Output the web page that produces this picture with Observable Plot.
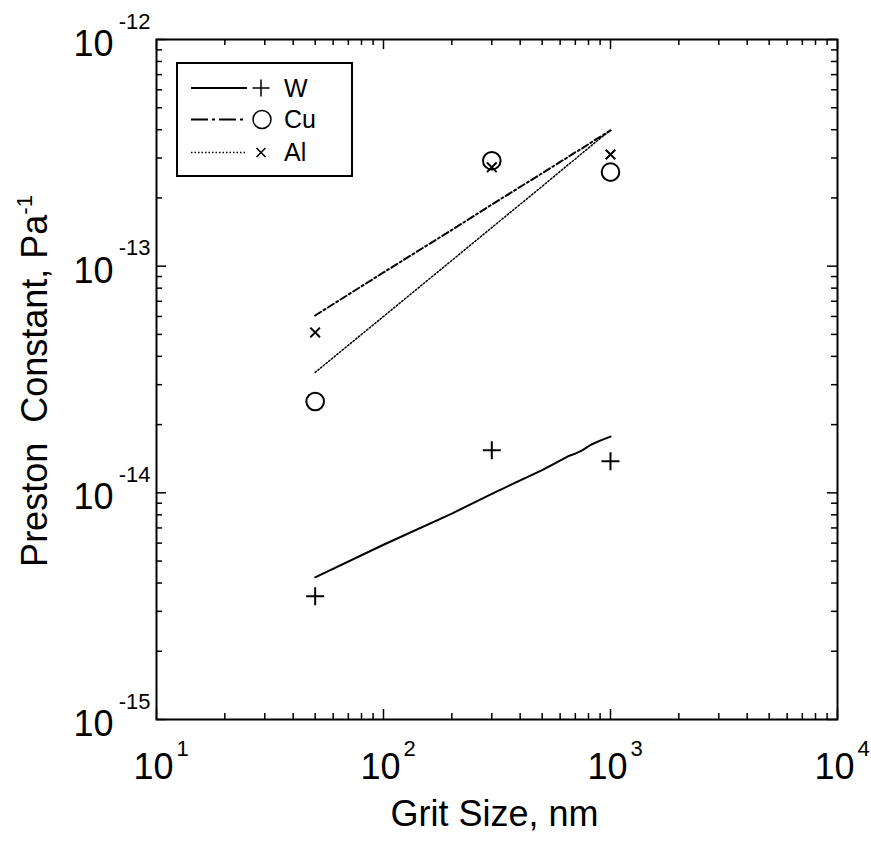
<!DOCTYPE html>
<html><head><meta charset="utf-8">
<script src="https://cdn.jsdelivr.net/npm/d3@7"></script>
<script src="https://cdn.jsdelivr.net/npm/@observablehq/plot@0.6"></script>
<style>body{margin:0;background:#fff;} #chart{width:871px;height:843px;}</style>
</head><body><div id="chart"></div>
<script>
// measured points
const gritSize = [50, 300, 1000];
const wPoints  = [3.5e-15, 1.54e-14, 1.38e-14];
const cuPoints = [2.53e-14, 2.92e-13, 2.6e-13];
const alPoints = [5.1e-14, 2.73e-13, 3.11e-13];
// fitted lines
const lineGrit = [50, 100, 200, 300, 500, 650, 700, 750, 820, 900, 1000];
const wLine  = [4.24e-15, 5.9e-15, 8.1e-15, 9.9e-15, 1.26e-14, 1.45e-14, 1.49e-14, 1.54e-14, 1.63e-14, 1.70e-14, 1.77e-14];
const cuLine = [6.06e-14, 9.38e-14, 1.445e-13, 1.87e-13, 2.57e-13, 3.03e-13, 3.18e-13, 3.31e-13, 3.51e-13, 3.72e-13, 3.97e-13];
const alLine = [3.4e-14, 6.0e-14, 1.06e-13, 1.48e-13, 2.25e-13, 2.80e-13, 2.97e-13, 3.15e-13, 3.39e-13, 3.66e-13, 3.98e-13];
// ticks
const xMajor = [10, 100, 1000, 10000];
const xExp = ["1", "2", "3", "4"];
const yMajor = [1e-15, 1e-14, 1e-13, 1e-12];
const yExp = ["-15", "-14", "-13", "-12"];
const mult = [2, 3, 4, 5, 6, 7, 8, 9];
const xMinor = [10, 100, 1000].flatMap(d => mult.map(m => d * m));
const yMinor = [1e-15, 1e-14, 1e-13].flatMap(d => mult.map(m => d * m));

const W = 871, H = 843, mL = 156, mR = 34, mT = 39, mB = 124;
const iW = W - mL - mR, iH = H - mT - mB;
const minorLen = 6, majorLen = 10;

const pts = arr => gritSize.map((x, i) => ({x, y: arr[i]}));
const ln = arr => lineGrit.map((x, i) => ({x, y: arr[i]}));

const plusSym = {draw(c, s){const h=Math.sqrt(s/Math.PI); c.moveTo(-h,0); c.lineTo(h,0); c.moveTo(0,-h); c.lineTo(0,h);}};
const timesSym = {draw(c, s){const h=Math.sqrt(s/Math.PI); c.moveTo(-h,-h); c.lineTo(h,h); c.moveTo(-h,h); c.lineTo(h,-h);}};

const font = "'Liberation Sans', Arial, Helvetica, sans-serif";

const chart = Plot.plot({
  width: W, height: H,
  marginLeft: mL, marginRight: mR, marginTop: mT, marginBottom: mB,
  x: {type: "log", domain: [10, 1e4], axis: null},
  y: {type: "log", domain: [1e-15, 1e-12], axis: null},
  style: {fontFamily: font, background: "white", color: "black", overflow: "visible"},
  marks: [
    // inward ticks on four sides
    Plot.tickX(xMinor, {x: d => d, insetTop: iH - minorLen, strokeWidth: 1.5}),
    Plot.tickX(xMinor, {x: d => d, insetBottom: iH - minorLen, strokeWidth: 1.5}),
    Plot.tickX(xMajor, {x: d => d, insetTop: iH - majorLen, strokeWidth: 1.5}),
    Plot.tickX(xMajor, {x: d => d, insetBottom: iH - majorLen, strokeWidth: 1.5}),
    Plot.tickY(yMinor, {y: d => d, insetRight: iW - minorLen, strokeWidth: 1.5}),
    Plot.tickY(yMinor, {y: d => d, insetLeft: iW - minorLen, strokeWidth: 1.5}),
    Plot.tickY(yMajor, {y: d => d, insetRight: iW - majorLen, strokeWidth: 1.5}),
    Plot.tickY(yMajor, {y: d => d, insetLeft: iW - majorLen, strokeWidth: 1.5}),
    Plot.frame({strokeWidth: 2, stroke: "black"}),
    // tick labels
    Plot.text(xMajor, {x: d => d, text: () => "10", frameAnchor: "bottom", lineAnchor: "bottom", textAnchor: "middle", dy: 59, dx: -3, fontSize: 36}),
    Plot.text(xMajor, {x: d => d, text: (d, i) => xExp[i], frameAnchor: "bottom", lineAnchor: "bottom", textAnchor: "start", dy: 36, dx: 20, fontSize: 22}),
    Plot.text(yMajor, {y: d => d, text: () => "10", frameAnchor: "left", lineAnchor: "middle", textAnchor: "end", dx: -43, dy: 5, fontSize: 36}),
    Plot.text(yMajor, {y: d => d, text: (d, i) => yExp[i], frameAnchor: "left", lineAnchor: "bottom", textAnchor: "end", dx: -6, dy: -11, fontSize: 22}),
    // lines
    Plot.line(ln(wLine), {x: "x", y: "y", stroke: "black", strokeWidth: 2}),
    Plot.line(ln(cuLine), {x: "x", y: "y", stroke: "black", strokeWidth: 2, strokeDasharray: "7,3,2,3"}),
    Plot.line(ln(alLine), {x: "x", y: "y", stroke: "black", strokeWidth: 1.5, strokeDasharray: "1.5,2"}),
    // points
    Plot.dot(pts(wPoints), {x: "x", y: "y", symbol: plusSym, r: 9, stroke: "black", strokeWidth: 2}),
    Plot.dot(pts(cuPoints), {x: "x", y: "y", symbol: "circle", r: 8.8, stroke: "black", strokeWidth: 2, fill: "none"}),
    Plot.dot(pts(alPoints), {x: "x", y: "y", symbol: timesSym, r: 4.8, stroke: "black", strokeWidth: 2})
  ]
});
document.getElementById("chart").appendChild(chart);

const svg = d3.select(chart);
// axis titles
svg.append("text").attr("x", (mL + W - mR) / 2 - 2).attr("y", 826)
  .attr("text-anchor", "middle").attr("font-size", 36).attr("font-family", font)
  .attr("fill", "black").text("Grit Size, nm");
const yt = svg.append("text").attr("transform", `translate(47,381) rotate(-90)`)
  .attr("text-anchor", "middle").attr("font-size", 36).attr("font-family", font)
  .attr("fill", "black").style("white-space", "pre");
yt.append("tspan").text("Preston  Constant, Pa");
yt.append("tspan").attr("dy", -15).attr("font-size", 22).text("-1");

// legend
const lg = svg.append("g");
lg.append("rect").attr("x", 177).attr("y", 63).attr("width", 175).attr("height", 113)
  .attr("fill", "white").attr("stroke", "black").attr("stroke-width", 2);
const rows = [
  {label: "W", y: 88, dash: null, sw: 2, mk: "plus"},
  {label: "Cu", y: 119.5, dash: "17,4,3,4", sw: 2, mk: "circle"},
  {label: "Al", y: 152.5, dash: "1.5,2", sw: 1.5, mk: "times"}
];
rows.forEach(r => {
  lg.append("line").attr("x1", 191).attr("x2", 247).attr("y1", r.y).attr("y2", r.y)
    .attr("stroke", "black").attr("stroke-width", r.sw).attr("stroke-dasharray", r.dash);
  const cx = 261;
  if (r.mk === "plus") {
    lg.append("path").attr("d", `M${cx-8.5},${r.y}H${cx+8.5}M${cx},${r.y-8.5}V${r.y+8.5}`).attr("stroke", "black").attr("stroke-width", 1.5);
  } else if (r.mk === "circle") {
    lg.append("circle").attr("cx", cx + 1).attr("cy", r.y).attr("r", 9).attr("fill", "none").attr("stroke", "black").attr("stroke-width", 1.5);
  } else {
    lg.append("path").attr("d", `M${cx-4.5},${r.y-4.5}L${cx+4.5},${r.y+4.5}M${cx-4.5},${r.y+4.5}L${cx+4.5},${r.y-4.5}`).attr("stroke", "black").attr("stroke-width", 1.5);
  }
  lg.append("text").attr("x", 284).attr("y", r.y + 8.5).attr("text-anchor", "start").attr("font-size", 25).attr("font-family", font)
    .attr("fill", "black").text(r.label);
});
</script>
</body></html>
